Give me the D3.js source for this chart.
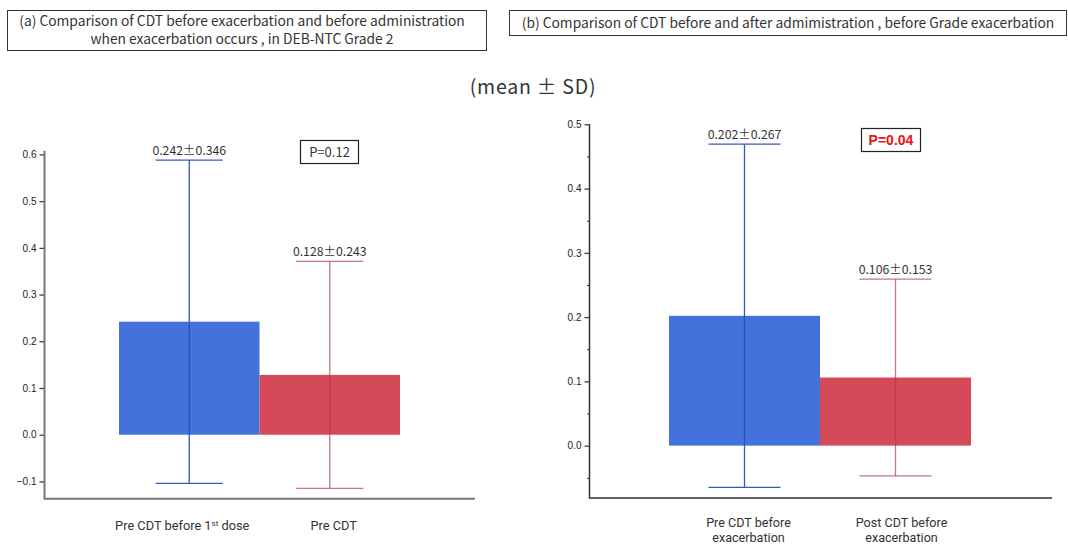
<!DOCTYPE html>
<html><head><meta charset="utf-8">
<script src="https://cdn.jsdelivr.net/npm/d3@7"></script>
<style>
body{margin:0;background:#fff;}
svg{display:block;}
</style></head>
<body>
<svg id="chart" width="1068" height="545" font-family="'Noto Sans CJK JP','Noto Sans',sans-serif"></svg>
<script>
// ---- data ----
const panelA_categories = ["Pre CDT before 1st dose", "Pre CDT"];
const panelA_means = [0.242, 0.128];
const panelA_sds = [0.346, 0.243];
const panelA_ticks = [-0.1, 0.0, 0.1, 0.2, 0.3, 0.4, 0.5, 0.6];
const panelA_p = "P=0.12";

const panelB_categories = ["Pre CDT before exacerbation", "Post CDT before exacerbation"];
const panelB_labelLines = [["Pre CDT before", "exacerbation"], ["Post CDT before", "exacerbation"]];
const panelB_means = [0.202, 0.106];
const panelB_sds = [0.267, 0.153];
const panelB_ticks = [0.0, 0.1, 0.2, 0.3, 0.4, 0.5];
const panelB_minorTicks = [-0.05, 0.05, 0.15, 0.25, 0.35, 0.45];
const panelB_p = "P=0.04";

const barColors = ["#4372dc", "#d44a58"];
const errColors = ["#2a4fb8", "#b03a4a"];
const labelFont = "Roboto,'Noto Sans',sans-serif";
const tickFont = "'Liberation Sans',Arial,sans-serif";

const svg = d3.select("#chart");

// ---- title boxes ----
function titleBox(x, y, w, h, lines, cx, ys) {
  svg.append("rect").attr("x", x).attr("y", y).attr("width", w).attr("height", h)
    .attr("fill", "#fff").attr("stroke", "#333").attr("stroke-width", 1);
  lines.forEach((l, i) => {
    svg.append("text").attr("x", cx).attr("y", ys[i]).attr("text-anchor", "middle")
      .attr("font-size", 13.8).attr("fill", "#333").text(l);
  });
}
titleBox(7.5, 10.5, 479, 40, ["(a) Comparison of CDT before exacerbation and before administration",
  "when exacerbation occurs , in DEB-NTC Grade 2"], 242, [26, 44]);
titleBox(509.5, 10.5, 557, 25, ["(b) Comparison of CDT before and after admimistration , before Grade exacerbation"], 788, [27.5]);

svg.append("text").attr("x", 533).attr("y", 94).attr("text-anchor", "middle")
  .attr("font-size", 19.5).attr("fill", "#333").attr("letter-spacing", 0.8).text("(mean \u00b1 SD)");

// ---- panel drawing ----
function panel(opts) {
  const y = d3.scaleLinear().domain(opts.yDomain).range(opts.yRange);
  const x = d3.scaleBand().domain(opts.categories).range(opts.barRange).paddingInner(0).paddingOuter(0);
  const g = svg.append("g");

  g.selectAll("rect.bar").data(opts.means).join("rect")
    .attr("x", (d, i) => x(opts.categories[i]))
    .attr("width", x.bandwidth())
    .attr("y", d => y(Math.max(0, d)))
    .attr("height", d => Math.abs(y(d) - y(0)))
    .attr("fill", (d, i) => barColors[i]);

  opts.means.forEach((m, i) => {
    const cx = x(opts.categories[i]) + x.bandwidth() / 2;
    const hw = opts.capHalf;
    const eg = g.append("g").attr("stroke", errColors[i]).attr("stroke-opacity", i === 0 ? 0.95 : 0.7)
      .attr("stroke-width", 1.3);
    eg.append("line").attr("x1", cx).attr("x2", cx).attr("y1", y(m + opts.sds[i])).attr("y2", y(m - opts.sds[i]));
    eg.append("line").attr("x1", cx - hw).attr("x2", cx + hw).attr("y1", y(m + opts.sds[i])).attr("y2", y(m + opts.sds[i]));
    eg.append("line").attr("x1", cx - hw).attr("x2", cx + hw).attr("y1", y(m - opts.sds[i])).attr("y2", y(m - opts.sds[i]));
    g.append("text").attr("x", cx).attr("y", y(m + opts.sds[i]) - 5).attr("text-anchor", "middle")
      .attr("font-size", 12.3).attr("fill", "#333")
      .text(m.toFixed(3) + "\u00b1" + opts.sds[i].toFixed(3));
  });

  const ax = d3.axisLeft(y).tickValues(opts.ticks).tickSize(5).tickPadding(3).tickFormat(d3.format(".1f"));
  const ag = g.append("g").attr("transform", `translate(${opts.axisX},0)`).call(ax);
  ag.attr("font-family", tickFont).attr("font-size", 10);
  ag.select(".domain").remove();
  ag.selectAll(".tick line").attr("stroke", "#333").attr("stroke-width", 1.2);
  ag.selectAll(".tick text").attr("fill", "#222");
  if (opts.minorTicks) {
    const mx = d3.axisLeft(y).tickValues(opts.minorTicks).tickSize(2.5).tickFormat("");
    const mg = g.append("g").attr("transform", `translate(${opts.axisX},0)`).call(mx);
    mg.select(".domain").remove();
    mg.selectAll(".tick line").attr("stroke", "#333");
  }
  g.append("path").attr("fill", "none").attr("stroke", opts.axisColor).attr("stroke-width", opts.axisWidth)
    .attr("d", `M${opts.axisX},${y(opts.yDomain[1])}V${opts.yRange[0]}H${opts.axisRight}`);

  const pb = opts.pBox;
  g.append("rect").attr("x", pb.x).attr("y", pb.y).attr("width", pb.w).attr("height", pb.h)
    .attr("fill", "#fff").attr("stroke", "#222").attr("stroke-width", 1.2);
  const pt = g.append("text").attr("x", pb.x + pb.w / 2).attr("y", pb.y + pb.h / 2 + 4.5).attr("text-anchor", "middle")
    .attr("font-size", 13).attr("fill", pb.color).attr("font-weight", pb.bold ? "bold" : "normal")
    .text(pb.text);
  if (pb.bold) pt.attr("font-family", tickFont).attr("font-size", 14);
  return { x, y };
}

const A = panel({
  categories: panelA_categories, means: panelA_means, sds: panelA_sds, ticks: panelA_ticks,
  yDomain: [-0.137, 0.608], yRange: [498.7, 150.7], barRange: [119, 400], capHalf: 33.5,
  axisX: 44.5, axisRight: 475, axisColor: "#777", axisWidth: 2,
  pBox: { x: 300.5, y: 140.5, w: 58, h: 23, text: panelA_p, color: "#333", bold: false }
});
const B = panel({
  categories: panelB_categories, means: panelB_means, sds: panelB_sds, ticks: panelB_ticks, minorTicks: panelB_minorTicks,
  yDomain: [-0.0815, 0.5], yRange: [498, 124.3], barRange: [669, 971], capHalf: 36,
  axisX: 589.5, axisRight: 1052, axisColor: "#333", axisWidth: 1.5,
  pBox: { x: 861.5, y: 128.5, w: 59, h: 23, text: panelB_p, color: "#ee1111", bold: true }
});

panelA_categories.forEach((c, i) => {
  const cx = A.x(c) + A.x.bandwidth() / 2 + (i === 0 ? -7 : 4);
  const t = svg.append("text").attr("x", cx).attr("y", 530).attr("text-anchor", "middle")
    .attr("font-family", labelFont).attr("font-size", 12.8).attr("fill", "#333");
  const m = c.match(/^(.*\d)(st)( .*)$/);
  if (m) {
    t.append("tspan").text(m[1]);
    t.append("tspan").attr("font-size", 8).attr("dy", -4).text(m[2]);
    t.append("tspan").attr("dy", 4).text(m[3]);
  } else t.text(c);
});
panelB_categories.forEach((c, i) => {
  const cx = B.x(c) + B.x.bandwidth() / 2 + (i === 0 ? 4 : 6);
  panelB_labelLines[i].forEach((l, j) => {
    svg.append("text").attr("x", cx).attr("y", 527 + j * 14.5).attr("text-anchor", "middle")
      .attr("font-family", labelFont).attr("font-size", 12.6).attr("fill", "#333").text(l);
  });
});
</script>
</body></html>
